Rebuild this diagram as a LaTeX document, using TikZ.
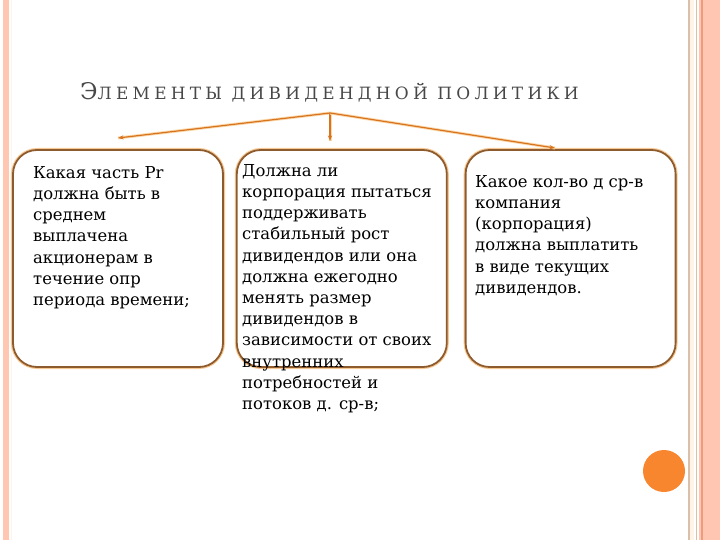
\documentclass[tikz,border=0pt]{standalone}
\usepackage{fontspec}
\setmainfont{DejaVu Serif}
\newfontfamily\titlefont[LetterSpace=25]{DejaVu Serif}
\usepackage{xcolor}
\usetikzlibrary{arrows.meta}
\usetikzlibrary{positioning}
\definecolor{salmon}{HTML}{FFC6B2}
\definecolor{salmondark}{HTML}{EE9C80}
\definecolor{stripetan}{HTML}{D9C0AA}
\definecolor{stripecream}{HTML}{FFF4E6}
\definecolor{boxbrown}{HTML}{8E5B2E}
\definecolor{boxglow}{HTML}{F6C994}
\definecolor{branchorange}{HTML}{D8741E}
\definecolor{branchglow}{HTML}{FBD9AE}
\definecolor{dotorange}{HTML}{F7862F}
\definecolor{titlegrey}{HTML}{484848}
\tikzset{
  every node/.style = {font = \fontsize{16.5}{21.3}\selectfont}
}
\tikzset{
    >={Stealth[length=2mm]}
}
\tikzset{
  roundbox/.style = {preaction={draw=boxglow, line width=4bp},
    draw=boxbrown, line width=1.8bp, rounded corners=24bp, fill=white,
    minimum width=210bp, minimum height=217bp, inner sep=0pt},
  boxtext/.style = {anchor=north west, align=left, inner sep=0pt},
  branch/.style = {->, draw=branchorange, line width=1.2bp,
    preaction={draw=branchglow, line width=3bp, -}},
}

\begin{document}
\begin{tikzpicture}[x=1bp,y=-1bp]
\useasboundingbox (0,0) rectangle (720,540);

% Side stripes
\fill[salmon] (3,0) rectangle (9,540);
\draw[stripecream, line width=1bp] (11.5,0) -- (11.5,540);
\draw[stripetan, line width=1.5bp] (689,0) -- (689,540);
\fill[stripecream] (690,0) rectangle (694,540);
\draw[stripetan, line width=0.8bp] (696,0) -- (696,540);
\fill[salmon] (699,0) rectangle (720,540);
\draw[salmondark, line width=1.5bp] (702,0) -- (702,540);

% Title
\node[anchor=base west, inner sep=0pt, text=titlegrey] (title) at (80,100)
  {\titlefont{\fontsize{23}{23}\selectfont Э}{\fontsize{17}{20}\selectfont ЛЕМЕНТЫ ДИВИДЕНДНОЙ ПОЛИТИКИ}};

% The boxes
\node[roundbox] (box1) at (118,258.5) {};
\node[roundbox, right=12bp of box1] (box2) {};
\node[roundbox, right=17bp of box2] (box3) {};

% Texts (the middle one runs past its box)
\node[boxtext] (txt1) at (33,166) {Какая часть Pr\\должна быть в\\среднем\\выплачена\\акционерам в\\течение опр\\периода времени;};
\node[boxtext] (txt2) at (242,164) {Должна ли\\корпорация пытаться\\поддерживать\\стабильный рост\\дивидендов или она\\должна ежегодно\\менять размер\\дивидендов в\\зависимости от своих\\внутренних\\потребностей и\\потоков д. ср-в;};
\node[boxtext] (txt3) at (475,175) {Какое кол-во д ср-в\\компания\\(корпорация)\\должна выплатить\\в виде текущих\\дивидендов.};

% Branches
\coordinate (hub) at (330,113);
\coordinate (endL) at (118,138);
\coordinate (endM) at (330,141);
\coordinate (endR) at (555,148);
\draw[branch] (hub) -- (endL);
\draw[branch] (hub) -- (endM);
\draw[branch] (hub) -- (endR);

% Orange dot
\fill[dotorange] (664,471) circle (21);
\end{tikzpicture}
\end{document}
